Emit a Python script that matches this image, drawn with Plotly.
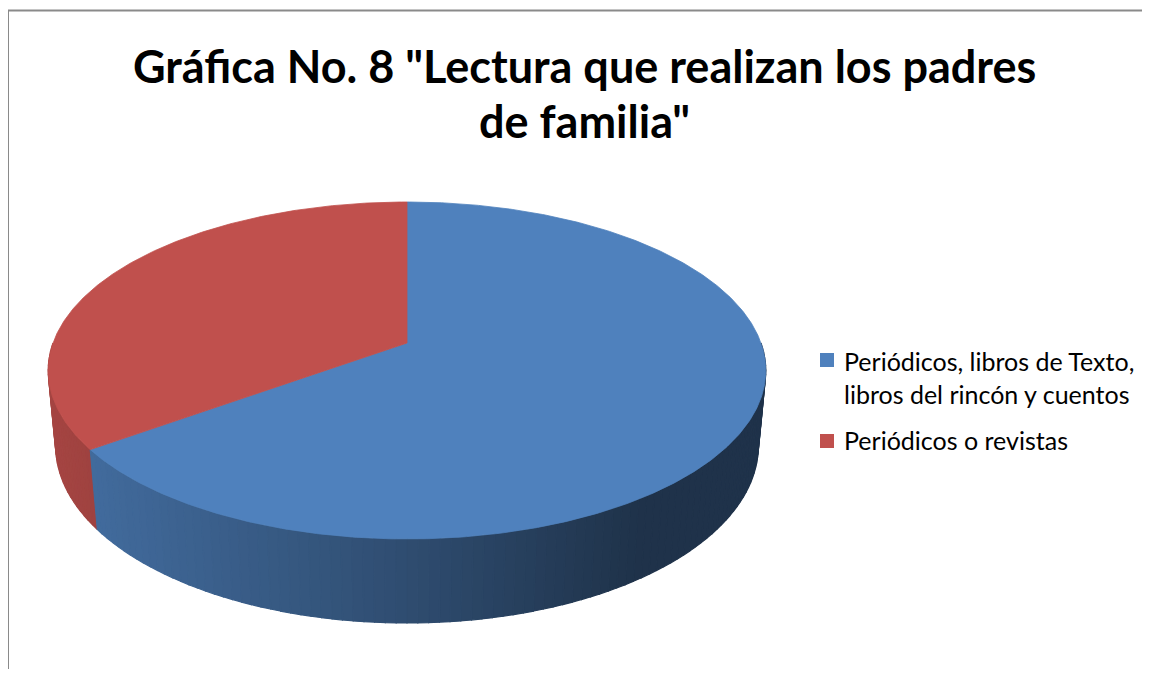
import numpy as np
import plotly.graph_objects as go

# ---------------- data ----------------
categories = ["Periódicos, libros de Texto, libros del rincón y cuentos", "Periódicos o revistas"]
values = [65, 35]
legend_lines = [["Periódicos, libros de Texto,", "libros del rincón y cuentos"], ["Periódicos o revistas"]]
title_lines = ['Gráfica No. 8 "Lectura que realizan los padres', 'de familia"']

# ---------------- style ----------------
top_colors = [(79, 129, 189), (192, 80, 77)]
FONT = "Lato"

# page-pixel coordinate system (body margin 8px)
W, H_PAGE = 1150, 677
M = 8

# simple perspective camera for the 3-D pie
phi = np.radians(27.6)
c, s = np.cos(phi), np.sin(phi)
D = 6.13 * c
K = 1923.0
CX, CY = 407.0, 343.0
DEPTH = 0.2426


def project(t, z):
    x = np.cos(t)
    y = np.sin(t)
    vx = x
    vy = y + D * c
    vz = z - D * s
    depth = vy * c - vz * s
    up = vy * s + vz * c
    return CX + K * vx / depth, CY - K * up / depth


def rgb(col):
    return "rgb(%d,%d,%d)" % tuple(int(round(v)) for v in col)


def shade(col, xpix):
    f = np.interp(xpix, [48, 400, 640, 770], [0.86, 0.60, 0.39, 0.39])
    return tuple(v * f for v in col)


fig = go.Figure()

# slice angular ranges (start at 12 o'clock, clockwise)
total = float(sum(values))
bounds = []
a = np.pi / 2
for v in values:
    b = a - 2 * np.pi * v / total
    bounds.append((a, b))
    a = b


def slice_of(t):
    for i, (a0, a1) in enumerate(bounds):
        tt = t
        while tt > a0:
            tt -= 2 * np.pi
        while tt <= a0 - 2 * np.pi:
            tt += 2 * np.pi
        if a1 <= tt <= a0:
            return i
    return 0


# ---- side wall (front half), drawn as shaded strips ----
edges = [-np.pi, 0.0]
for (a0, a1) in bounds:
    for ang in (a0, a1):
        tt = ang
        while tt > 0:
            tt -= 2 * np.pi
        while tt < -np.pi:
            tt += 2 * np.pi
        if -np.pi < tt < 0:
            edges.append(tt)
edges = sorted(set(edges))
grid = []
for e0, e1 in zip(edges[:-1], edges[1:]):
    n = max(2, int(np.ceil((e1 - e0) / np.radians(1.5))))
    seg = np.linspace(e0, e1, n + 1)
    if grid:
        seg = seg[1:]
    grid.extend(seg.tolist())
grid = np.array(grid)

strips = []
for t0, t1 in zip(grid[:-1], grid[1:]):
    tm = 0.5 * (t0 + t1)
    facing = -1 - D * c * np.sin(tm)
    strips.append((facing, t0, t1))
strips.sort(key=lambda q: q[0])

for facing, t0, t1 in strips:
    tm = 0.5 * (t0 + t1)
    idx = slice_of(tm)
    ts = np.linspace(t0, t1, 3)
    xt, yt = project(ts, 0.0)
    xb, yb = project(ts[::-1], -DEPTH)
    xs = np.concatenate([xt, xb, xt[:1]])
    ys = np.concatenate([yt, yb, yt[:1]])
    col = rgb(shade(top_colors[idx], float(np.mean(xt))))
    fig.add_trace(go.Scatter(x=xs, y=ys, mode="lines", fill="toself",
                             fillcolor=col, line=dict(color=col, width=1.2),
                             hoverinfo="skip", showlegend=False))

# ---- top faces ----
for i, (a0, a1) in enumerate(bounds):
    n = max(8, int(abs(a0 - a1) / np.radians(0.5)))
    ts = np.linspace(a0, a1, n)
    xr, yr = project(ts, 0.0)
    xs = np.concatenate([[CX], xr, [CX]])
    ys = np.concatenate([[CY], yr, [CY]])
    col = rgb(top_colors[i])
    fig.add_trace(go.Scatter(x=xs, y=ys, mode="lines", fill="toself",
                             fillcolor=col, line=dict(color=col, width=0.8),
                             name=categories[i], hovertext=f"{categories[i]}: {values[i]}",
                             hoverinfo="text", showlegend=False))

# ---- legend (manual) ----
legend_marker_y = [360, 441]
legend_text_base = [[369, 402], [448]]
LEG_SIZE = 25
for i in range(len(categories)):
    fig.add_trace(go.Scatter(x=[827], y=[legend_marker_y[i]], mode="markers",
                             marker=dict(symbol="square", size=14, color=rgb(top_colors[i]),
                                         line=dict(width=0)),
                             hoverinfo="skip", showlegend=False))
    for line, base in zip(legend_lines[i], legend_text_base[i]):
        fig.add_annotation(x=842, y=base - 8, xref="x", yref="y", text=line,
                           showarrow=False, xanchor="left", yanchor="middle",
                           font=dict(family=FONT, size=LEG_SIZE, color="#000000"))

# ---- title ----
TITLE_SIZE = 45
for line, base in zip(title_lines, [75, 130]):
    fig.add_annotation(x=584, y=base - 9, xref="x", yref="y", text=line,
                       showarrow=False, xanchor="center", yanchor="middle",
                       font=dict(family=FONT, size=TITLE_SIZE, color="#000000", weight="bold"))

# ---- frame lines ----
fig.add_shape(type="line", x0=8, x1=W, y0=10.5, y1=10.5, xref="x", yref="y",
              line=dict(color="#8a8a8a", width=2))
fig.add_shape(type="line", x0=8, x1=8, y0=10, y1=H_PAGE, xref="x", yref="y",
              line=dict(color="#8a8a8a", width=2))

fig.update_layout(
    width=W - 2 * M, height=H_PAGE - 2 * M,
    margin=dict(l=0, r=0, t=0, b=0),
    paper_bgcolor="white", plot_bgcolor="white",
    xaxis=dict(range=[M, W - M], visible=False, fixedrange=True),
    yaxis=dict(range=[H_PAGE - M, M], visible=False, fixedrange=True),
    showlegend=False,
)

fig.write_html("out.html", config={"displayModeBar": False})
